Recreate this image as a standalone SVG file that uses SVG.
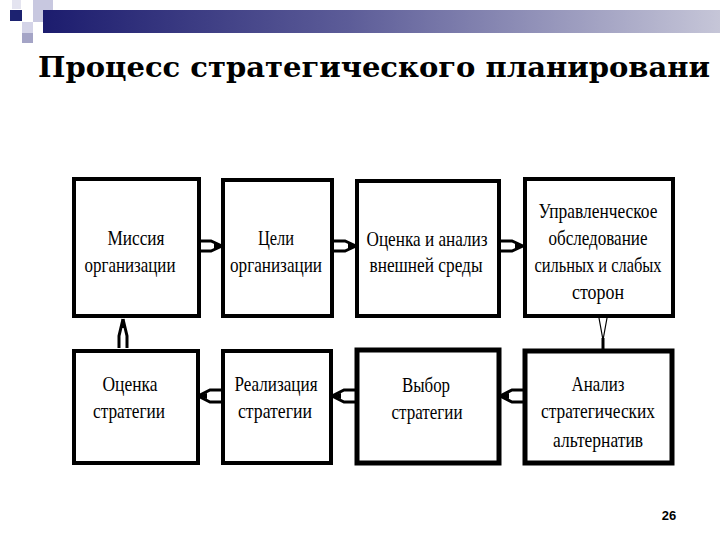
<svg xmlns="http://www.w3.org/2000/svg" width="720" height="540" viewBox="0 0 720 540">
<defs>
<linearGradient id="bar" x1="0" y1="0" x2="1" y2="0">
<stop offset="0" stop-color="#1c1c6e"/>
<stop offset="0.45" stop-color="#5c5c98"/>
<stop offset="1" stop-color="#c6c6d8"/>
</linearGradient>
<style>
.box{fill:#fff;stroke:#000;stroke-width:4}
.thick{stroke-width:5}
.t{font-family:"Liberation Serif","Times New Roman",serif;font-size:21px;fill:#000;text-anchor:middle}
.arr{fill:none;stroke:#000;stroke-width:3;stroke-linejoin:miter;stroke-linecap:butt}
.thin{fill:none;stroke:#000;stroke-width:1.2}
.head{fill:#000}
</style>
</defs>
<rect width="720" height="540" fill="#fff"/>
<g id="header">
<rect x="12" y="0" width="9" height="9" fill="#e4e4f0"/>
<rect x="33" y="0" width="20" height="22" fill="#c8c8e0"/>
<rect x="10" y="10" width="12" height="11" fill="#1c2270"/>
<rect x="22" y="22" width="11" height="11" fill="#d4d4e8"/>
<rect x="22" y="33" width="11" height="10" fill="#a4a4c6"/>
<rect x="43" y="10" width="677" height="23" fill="url(#bar)"/>
</g>
<text id="title" x="38" y="77" textLength="672" lengthAdjust="spacingAndGlyphs" style="font-family:'DejaVu Serif','Liberation Serif',serif;font-weight:bold;font-size:28px;fill:#000">Процесс стратегического планировани</text>

<g id="n1">
<rect class="box" x="74" y="179" width="125" height="137"/>
<text class="t" x="136" y="245" textLength="57" lengthAdjust="spacingAndGlyphs">Миссия</text>
<text class="t" x="130" y="272" textLength="91" lengthAdjust="spacingAndGlyphs">организации</text>
</g>
<g id="n2">
<rect class="box" x="223" y="180" width="109" height="136"/>
<text class="t" x="276" y="245" textLength="36" lengthAdjust="spacingAndGlyphs">Цели</text>
<text class="t" x="276" y="272" textLength="92" lengthAdjust="spacingAndGlyphs">организации</text>
</g>
<g id="n3">
<rect class="box" x="357" y="181" width="142" height="135"/>
<text class="t" x="427" y="246" textLength="121" lengthAdjust="spacingAndGlyphs">Оценка и анализ</text>
<text class="t" x="426" y="272" textLength="113" lengthAdjust="spacingAndGlyphs">внешней среды</text>
</g>
<g id="n4">
<rect class="box" x="525" y="179" width="148" height="137"/>
<text class="t" x="598" y="218" textLength="119" lengthAdjust="spacingAndGlyphs">Управленческое</text>
<text class="t" x="598" y="245" textLength="99" lengthAdjust="spacingAndGlyphs">обследование</text>
<text class="t" x="598" y="272" textLength="127" lengthAdjust="spacingAndGlyphs">сильных и слабых</text>
<text class="t" x="598" y="299" textLength="52" lengthAdjust="spacingAndGlyphs">сторон</text>
</g>
<g id="n5">
<rect class="box" x="74" y="351" width="124" height="112"/>
<text class="t" x="130" y="391" textLength="55" lengthAdjust="spacingAndGlyphs">Оценка</text>
<text class="t" x="129" y="418" textLength="72" lengthAdjust="spacingAndGlyphs">стратегии</text>
</g>
<g id="n6">
<rect class="box" x="223" y="351" width="108" height="112"/>
<text class="t" x="276" y="391" textLength="83" lengthAdjust="spacingAndGlyphs">Реализация</text>
<text class="t" x="275" y="418" textLength="74" lengthAdjust="spacingAndGlyphs">стратегии</text>
</g>
<g id="n7">
<rect class="box thick" x="357" y="350" width="142" height="113"/>
<text class="t" x="426" y="392" textLength="48" lengthAdjust="spacingAndGlyphs">Выбор</text>
<text class="t" x="427" y="419" textLength="71" lengthAdjust="spacingAndGlyphs">стратегии</text>
</g>
<g id="n8">
<rect class="box thick" x="525" y="351" width="147" height="112"/>
<text class="t" x="598" y="391" textLength="53" lengthAdjust="spacingAndGlyphs">Анализ</text>
<text class="t" x="598" y="418" textLength="114" lengthAdjust="spacingAndGlyphs">стратегических</text>
<text class="t" x="598" y="447" textLength="90" lengthAdjust="spacingAndGlyphs">альтернатив</text>
</g>

<g id="connectors">
<g transform="translate(200,246)">
<path class="arr" d="M0,-5 H11 L22,0"/>
<path class="arr" d="M0,5 H11 L22,0"/>
<path class="head" d="M14,-3 L22,0 L14,3 Z"/>
</g>
<g transform="translate(334,246)">
<path class="arr" d="M0,-5 H11 L22,0"/>
<path class="arr" d="M0,5 H11 L22,0"/>
<path class="head" d="M14,-3 L22,0 L14,3 Z"/>
</g>
<g transform="translate(501,246)">
<path class="arr" d="M0,-5 H11 L22,0"/>
<path class="arr" d="M0,5 H11 L22,0"/>
<path class="head" d="M14,-3 L22,0 L14,3 Z"/>
</g>
<g transform="translate(603,318)">
<path class="thin" d="M-4,0 L0,22 L4,0"/>
<path d="M0,20 L0,32" stroke="#000" stroke-width="3"/>
</g>
<g transform="translate(523,396)">
<path class="arr" d="M0,-6 H-11 L-23,0"/>
<path class="arr" d="M0,6 H-11 L-23,0"/>
<path class="head" d="M-14,-3 L-23,0 L-14,3 Z"/>
</g>
<g transform="translate(355,396)">
<path class="arr" d="M0,-6 H-11 L-23,0"/>
<path class="arr" d="M0,6 H-11 L-23,0"/>
<path class="head" d="M-14,-3 L-23,0 L-14,3 Z"/>
</g>
<g transform="translate(221,396)">
<path class="arr" d="M0,-6 H-11 L-23,0"/>
<path class="arr" d="M0,6 H-11 L-23,0"/>
<path class="head" d="M-14,-3 L-23,0 L-14,3 Z"/>
</g>
<g transform="translate(123,348)">
<path class="arr" d="M-4,0 V-12 L0,-29"/>
<path class="arr" d="M4,0 V-12 L0,-29"/>
<path class="head" d="M-2.5,-20 L0,-29 L2.5,-20 Z"/>
</g>
</g>
<text id="page" x="669" y="520" style="font-family:'Liberation Sans',Arial,sans-serif;font-weight:bold;font-size:13px;fill:#000;text-anchor:middle">26</text>
</svg>
